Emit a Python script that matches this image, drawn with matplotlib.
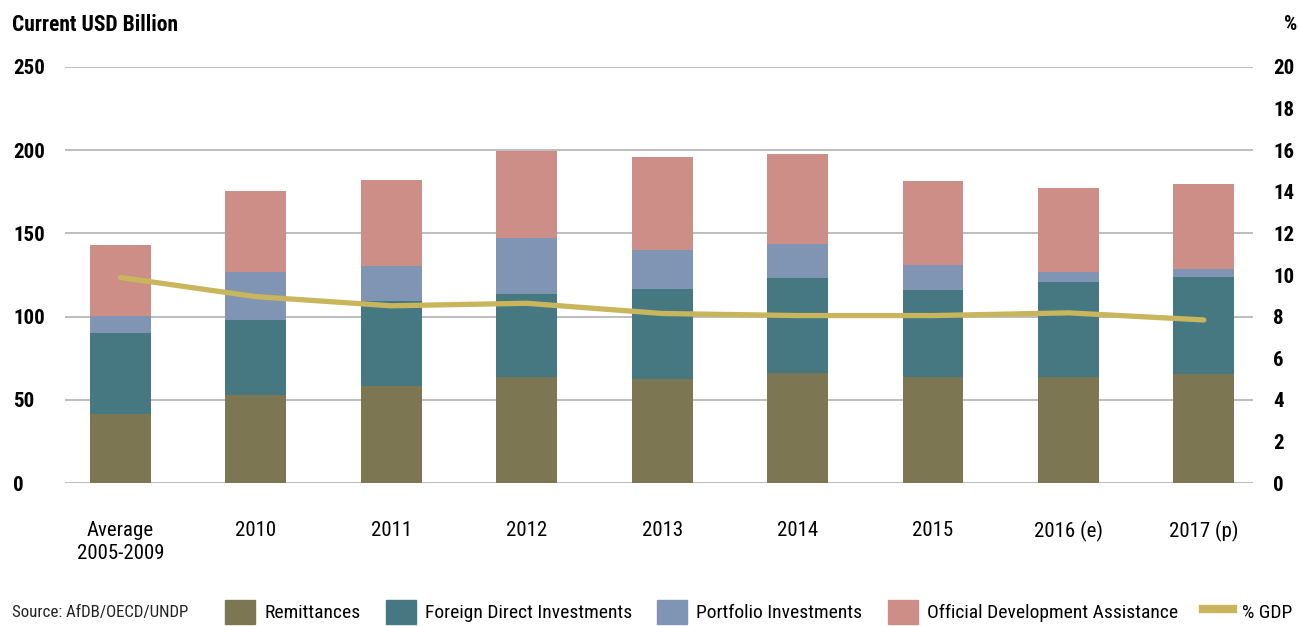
import matplotlib.pyplot as plt
import numpy as np
from matplotlib.lines import Line2D
from matplotlib.patches import Patch

plt.rcParams['font.family'] = ['Roboto Condensed', 'Roboto', 'DejaVu Sans']

categories = ['Average\n2005-2009', '2010', '2011', '2012', '2013', '2014',
              '2015', '2016 (e)', '2017 (p)']
remittances = [41.2, 52.6, 58.6, 64.0, 62.8, 66.4, 64.0, 64.0, 65.8]
fdi = [48.7, 45.6, 50.5, 49.3, 53.5, 56.5, 51.7, 56.5, 57.7]
portfolio = [10.7, 28.9, 21.6, 34.2, 23.7, 21.0, 15.6, 6.6, 4.9]
oda = [42.7, 48.1, 51.6, 52.2, 56.1, 54.0, 50.4, 49.9, 51.0]
gdp_pct = [9.88, 8.96, 8.52, 8.64, 8.15, 8.05, 8.05, 8.18, 7.84]

col_rem = '#7d7652'
col_fdi = '#457881'
col_port = '#8094b4'
col_oda = '#cd8e88'
col_gdp = '#c9b65c'

fig = plt.figure(figsize=(12.98, 6.26), dpi=100)
ax = fig.add_axes([0.0501, 0.2284, 0.9153, 0.6646])
ax2 = ax.twinx()

x = np.arange(len(categories))
w = 0.45
b1 = np.array(remittances)
b2 = b1 + np.array(fdi)
b3 = b2 + np.array(portfolio)
ax.bar(x, remittances, w, color=col_rem, zorder=2)
ax.bar(x, fdi, w, bottom=b1, color=col_fdi, zorder=2)
ax.bar(x, portfolio, w, bottom=b2, color=col_port, zorder=2)
ax.bar(x, oda, w, bottom=b3, color=col_oda, zorder=2)

# % GDP on the right-hand scale
ax2.plot(x, gdp_pct, color=col_gdp, lw=3.8, solid_capstyle='round',
         solid_joinstyle='round')

ax.set_xlim(-0.41, 8.364)
ax.set_ylim(0, 250)
ax2.set_ylim(0, 20)
ax.set_yticks(np.arange(0, 251, 50))
ax2.set_yticks(np.arange(0, 21, 2))
ax.set_xticks(x)
ax.set_xticklabels(categories, fontsize=15, linespacing=1.3)

ax.grid(axis='y', color='#ababab', lw=1.1, zorder=0)
ax.set_axisbelow(True)
for a in (ax, ax2):
    for s in a.spines.values():
        s.set_visible(False)
ax.tick_params(axis='x', length=0, pad=27)
ax.tick_params(axis='y', length=0, pad=37.5, labelsize=15)
ax2.tick_params(axis='y', length=0, pad=14.4, labelsize=15)
for lbl in ax.get_yticklabels():
    lbl.set_ha('left')
    lbl.set_fontweight('bold')
for lbl in ax2.get_yticklabels():
    lbl.set_fontweight('bold')

fig.text(12 / 1298, 1 - 25 / 626, 'Current USD Billion', fontsize=15.5,
         fontweight='bold', va='center', ha='left')
fig.text(1297 / 1298, 1 - 25 / 626, '%', fontsize=15, fontweight='bold',
         va='center', ha='right')
fig.text(12 / 1298, 1 - 617 / 626, 'Source: AfDB/OECD/UNDP', fontsize=12.2,
         va='baseline', ha='left', color='#222222')

handles = [Patch(color=col_rem), Patch(color=col_fdi), Patch(color=col_port),
           Patch(color=col_oda), Line2D([], [], color=col_gdp, lw=6)]
labels = ['Remittances', 'Foreign Direct Investments', 'Portfolio Investments',
          'Official Development Assistance', '% GDP']
fig.legend(handles, labels, ncol=5, loc='center left',
           bbox_to_anchor=(225 / 1298, 1 - 612 / 626), frameon=False,
           fontsize=14, borderpad=0, borderaxespad=0, handlelength=1.55,
           handleheight=1.45, handletextpad=0.46, columnspacing=1.3)

fig.savefig('out.png', dpi=100)
